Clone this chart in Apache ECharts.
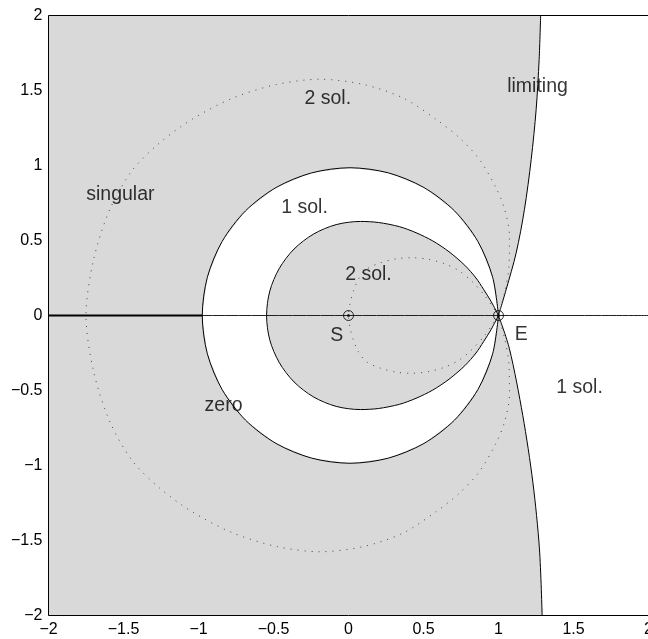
<!DOCTYPE html>
<html>
<head>
<meta charset="utf-8">
<script src="https://cdn.jsdelivr.net/npm/echarts@6/dist/echarts.min.js"></script>
<style>
  html, body { margin: 0; padding: 0; background: #fff; }
  #main { width: 648px; height: 639px; }
</style>
</head>
<body>
<div id="main"></div>
<script>
// outer boundary ("zero" / "1 sol."), E -> top -> left -> bottom -> E
const outerCurve = [
  [1.0, 0], [0.961, 0.255], [0.863, 0.493], [0.707, 0.697], [0.503, 0.853], [0.265, 0.951],
  [0.01, 0.985], [-0.245, 0.951], [-0.483, 0.853], [-0.687, 0.697], [-0.843, 0.493],
  [-0.941, 0.255], [-0.975, 0],
  [-0.941, -0.255], [-0.843, -0.493], [-0.687, -0.697], [-0.483, -0.853], [-0.245, -0.951],
  [0.01, -0.985], [0.265, -0.951], [0.503, -0.853], [0.707, -0.697], [0.863, -0.493],
  [0.961, -0.255], [1.0, 0]
];

// inner boundary (egg shape pointed at E)
const innerCurve = [
  [1, 0], [0.95, 0.095], [0.9, 0.175], [0.85, 0.25], [0.775, 0.335], [0.67, 0.425], [0.562, 0.497],
  [0.45, 0.552], [0.34, 0.592], [0.2, 0.62], [0.08, 0.627], [-0.082, 0.606], [-0.233, 0.543],
  [-0.363, 0.443], [-0.462, 0.313], [-0.525, 0.162], [-0.546, 0],
  [-0.525, -0.162], [-0.462, -0.313], [-0.363, -0.443], [-0.233, -0.543], [-0.082, -0.606],
  [0.08, -0.627], [0.2, -0.62], [0.34, -0.592], [0.45, -0.552], [0.562, -0.497], [0.67, -0.425],
  [0.775, -0.335], [0.85, -0.25], [0.9, -0.175], [0.95, -0.095], [1, 0]
];

// limiting curve, upper and lower branch starting at E
const limitingUpper = [
  [1, 0], [1.051, 0.173], [1.118, 0.418], [1.173, 0.707], [1.218, 1.04], [1.251, 1.373],
  [1.271, 1.707], [1.281, 2]
];
const limitingLower = [
  [1, 0], [1.073, -0.222], [1.162, -0.667], [1.229, -1.111], [1.273, -1.556], [1.291, -2]
];

// dotted curves
const bigDotted = [
  [1, 0], [1.04, 0.15], [1.07, 0.33], [1.073, 0.53], [1.04, 0.71], [0.984, 0.85], [0.873, 1.04],
  [0.74, 1.184], [0.585, 1.307], [0.362, 1.451], [0.1, 1.54], [-0.19, 1.575], [-0.48, 1.54],
  [-0.77, 1.45], [-1.04, 1.31], [-1.26, 1.15], [-1.44, 0.97], [-1.59, 0.71], [-1.70, 0.37], [-1.75, 0],
  [-1.70, -0.37], [-1.59, -0.71], [-1.44, -0.97], [-1.26, -1.15], [-1.04, -1.31], [-0.77, -1.45],
  [-0.48, -1.54], [-0.19, -1.575], [0.1, -1.54], [0.362, -1.451], [0.585, -1.307], [0.74, -1.184],
  [0.873, -1.04], [0.984, -0.85], [1.04, -0.71], [1.073, -0.53], [1.07, -0.33], [1.04, -0.15], [1, 0]
];
const smallDotted = [
  [1, 0], [0.91, 0.13], [0.83, 0.22], [0.74, 0.296], [0.64, 0.345], [0.53, 0.375], [0.42, 0.385],
  [0.32, 0.378], [0.21, 0.35], [0.118, 0.307], [0.065, 0.24], [0.035, 0.17], [0.01, 0.08], [0, 0],
  [0.01, -0.08], [0.035, -0.17], [0.065, -0.24], [0.118, -0.307], [0.21, -0.35], [0.32, -0.378],
  [0.42, -0.385], [0.53, -0.375], [0.64, -0.345], [0.74, -0.296], [0.83, -0.22], [0.91, -0.13], [1, 0]
];

// axis line y = 0 and its heavier left part
const zeroLine = [[-2, 0], [2, 0]];
const zeroBold = [[-2, 0], [-0.975, 0]];

// S and E points
const points = [[0, 0], [1, 0]];

// region labels
const labelNames = ['2 sol.', 'limiting', 'singular', '1 sol.', '2 sol.', 'S', 'E', '1 sol.', 'zero'];
const labelPos = [
  [-0.138, 1.444], [1.26, 1.525], [-1.521, 0.807], [-0.293, 0.718], [0.133, 0.273],
  [-0.078, -0.133], [1.151, -0.127], [1.54, -0.48], [-0.833, -0.6]
];

const FONT = '"Liberation Sans", Arial, sans-serif';
const GRAY = '#d9d9d9';

const chart = echarts.init(document.getElementById('main'));

function fillSeries(pts, color) {
  return {
    type: 'custom',
    silent: true,
    z: 1,
    data: [[0, 0]],
    renderItem: (params, api) => ({
      type: 'polygon',
      shape: { points: pts.map(p => api.coord(p)) },
      style: { fill: color, stroke: null }
    })
  };
}

function curve(data, style) {
  return {
    type: 'line',
    data: data,
    z: 3,
    smooth: 0.3,
    showSymbol: false,
    silent: true,
    lineStyle: Object.assign({ color: '#000', width: 1 }, style)
  };
}

const grayRegion = [[-2, 2]]
  .concat(limitingUpper.slice().reverse())
  .concat(limitingLower.slice(1))
  .concat([[-2, -2]]);

const fmt = v => String(v).replace('-', '\u2212');

const option = {
  animation: false,
  grid: {
    left: 48.5, top: 15.5, width: 600, height: 600,
    outerBoundsMode: 'none', containLabel: false,
    show: true, borderColor: '#000', borderWidth: 1,
    backgroundColor: 'transparent', z: 10
  },
  xAxis: {
    type: 'value', min: -2, max: 2, interval: 0.5,
    axisLine: { show: false }, axisTick: { show: false }, splitLine: { show: false },
    axisLabel: { color: '#000', fontSize: 16, fontFamily: FONT, margin: 6, formatter: fmt }
  },
  yAxis: {
    type: 'value', min: -2, max: 2, interval: 0.5,
    axisLine: { show: false }, axisTick: { show: false }, splitLine: { show: false },
    axisLabel: { color: '#000', fontSize: 16, fontFamily: FONT, margin: 6, formatter: fmt }
  },
  series: [
    fillSeries(grayRegion, GRAY),
    fillSeries(outerCurve, '#fff'),
    fillSeries(innerCurve, GRAY),
    curve(zeroLine, { color: '#222', width: 1 }),
    curve(zeroBold, { color: '#000', width: 2 }),
    curve(outerCurve, {}),
    curve(innerCurve, {}),
    curve(limitingUpper, {}),
    curve(limitingLower, {}),
    curve(bigDotted, { color: '#444', type: [1, 6] }),
    curve(smallDotted, { color: '#444', type: [1, 6] }),
    {
      type: 'scatter', data: points, z: 5, silent: true,
      symbol: 'circle', symbolSize: 10,
      itemStyle: { color: 'rgba(0,0,0,0)', borderColor: '#000', borderWidth: 1 }
    },
    {
      type: 'scatter', data: points, z: 5, silent: true,
      symbol: 'circle', symbolSize: 3,
      itemStyle: { color: '#000' }
    },
    {
      type: 'scatter', z: 6, silent: true, symbolSize: 0,
      data: labelNames.map((n, i) => ({ name: n, value: labelPos[i] })),
      label: {
        show: true, position: 'inside', formatter: '{b}',
        color: '#000', fontSize: 19.5, fontFamily: FONT
      }
    }
  ]
};

chart.setOption(option);
</script>
</body>
</html>
